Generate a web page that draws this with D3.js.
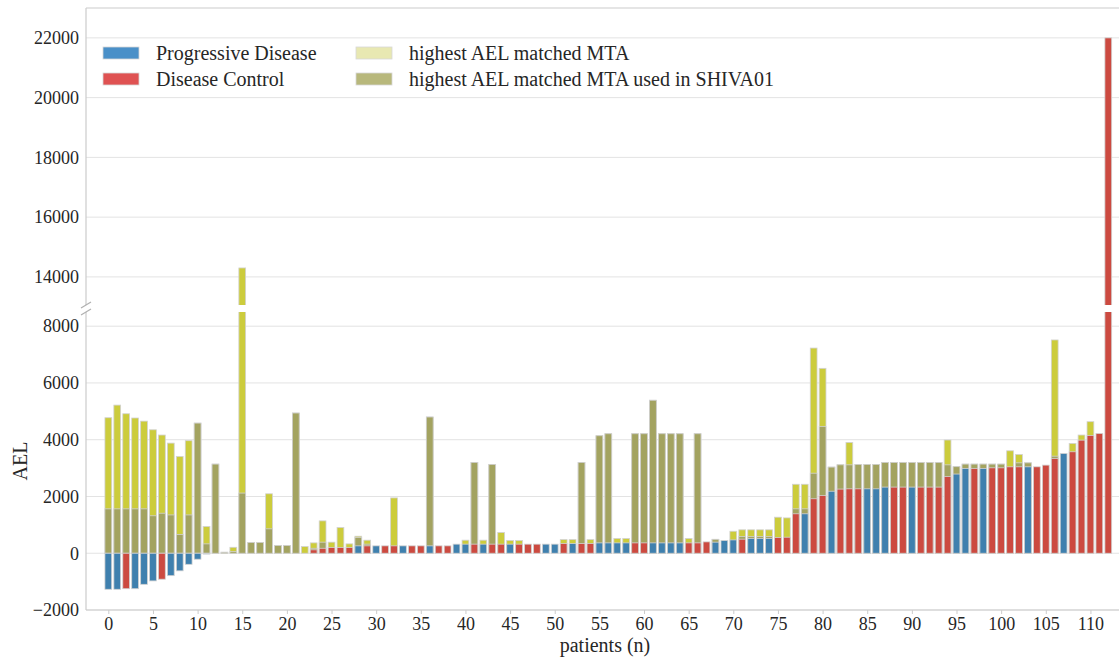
<!DOCTYPE html>
<html>
<head>
<meta charset="utf-8">
<script src="https://cdn.jsdelivr.net/npm/d3@7"></script>
<style>
  body { margin: 0; background: #fff; }
  svg { display: block; font-family: "Liberation Serif", "DejaVu Serif", serif; }
  .grid line { stroke: #e3e3e3; }
</style>
</head>
<body>
<svg width="1119" height="657"></svg>
<script>
// patient AEL (signed), response, highest AEL matched MTA, highest matched MTA used in SHIVA01
var patientAEL = [
  -1270, -1270, -1250, -1250, -1095, -975, -915, -790, -620, -390,
  -210, -30, 0, 0, 0, 0, 0, 0, 0, 0,
  0, 0, 0, 120, 175, 200, 200, 200, 260, 260,
  260, 260, 260, 260, 260, 260, 260, 260, 260, 320,
  320, 320, 320, 320, 320, 320, 320, 320, 320, 320,
  320, 340, 340, 340, 340, 365, 365, 365, 365, 365,
  365, 365, 365, 365, 365, 365, 365, 400, 390, 450,
  470, 495, 520, 520, 520, 555, 565, 1390, 1390, 1920,
  2035, 2185, 2260, 2270, 2270, 2270, 2270, 2330, 2330, 2330,
  2330, 2330, 2330, 2330, 2700, 2790, 2990, 2990, 2990, 3010,
  3010, 3045, 3045, 3045, 3045, 3105, 3340, 3515, 3575, 3985,
  4150, 4220, 22000
];
var response = [
  "PD","PD","DC","PD","PD","PD","DC","PD","PD","PD",
  "PD","PD","PD","PD","DC","PD","DC","DC","PD","PD",
  "PD","PD","PD","DC","DC","DC","DC","DC","PD","DC",
  "PD","DC","DC","PD","DC","DC","PD","DC","DC","PD",
  "PD","DC","PD","DC","DC","PD","DC","DC","DC","PD",
  "PD","DC","PD","DC","DC","PD","PD","PD","PD","DC",
  "DC","PD","PD","PD","PD","DC","DC","DC","PD","PD",
  "PD","DC","PD","PD","PD","DC","DC","DC","PD","DC",
  "DC","PD","DC","DC","DC","PD","PD","PD","DC","DC",
  "PD","DC","DC","DC","DC","PD","PD","DC","PD","DC",
  "DC","DC","DC","PD","DC","DC","DC","PD","DC","DC",
  "DC","DC","DC"
];
var matchedMTA = [
  4775, 5220, 4915, 4765, 4655, 4350, 4165, 3880, 3410, 3965,
  4585, 940, 3140, 35, 210, 14300, 375, 375, 2095, 270,
  270, 4940, 235, 365, 1140, 390, 905, 330, 600, 460,
  0, 0, 1950, 0, 0, 0, 4800, 0, 0, 0,
  460, 3200, 460, 3130, 730, 450, 450, 0, 0, 0,
  0, 480, 480, 3200, 480, 4140, 4210, 520, 520, 4210,
  4210, 5390, 4210, 4210, 4210, 520, 4210, 0, 490, 0,
  775, 825, 825, 825, 825, 1270, 1245, 2430, 2430, 7230,
  6515, 3035, 3115, 3905, 3130, 3130, 3130, 3200, 3200, 3200,
  3200, 3200, 3200, 3200, 3990, 3050, 3140, 3140, 3140, 3140,
  3140, 3610, 3480, 3185, 0, 0, 7515, 0, 3870, 4165,
  4635, 0, 0
];
var usedMTA = [
  1564, 1564, 1564, 1564, 1564, 1320, 1410, 1350, 660, 1350,
  4585, 330, 3140, 35, 60, 2120, 375, 375, 860, 270,
  270, 4940, 0, 175, 390, 0, 0, 0, 555, 320,
  0, 0, 0, 0, 0, 0, 4800, 0, 0, 0,
  0, 3200, 0, 3130, 0, 0, 0, 0, 0, 0,
  0, 0, 0, 3200, 0, 4140, 4210, 0, 0, 4210,
  4210, 5390, 4210, 4210, 4210, 0, 4210, 0, 490, 0,
  0, 590, 590, 590, 590, 0, 0, 1565, 1565, 2820,
  4470, 3035, 3115, 3115, 3130, 3130, 3130, 3200, 3200, 3200,
  3200, 3200, 3200, 3200, 3115, 3050, 3140, 3140, 3140, 3140,
  3140, 0, 3185, 3185, 0, 0, 3420, 0, 0, 0,
  0, 0, 0
];
var xTicks = d3.range(0, 111, 5);
var topTicks = [14000, 16000, 18000, 20000, 22000];
var bottomTicks = [-2000, 0, 2000, 4000, 6000, 8000];

var colors = {PD: "#3f80ae", DC: "#cc4a40", mta: "#cccc3c", used: "#a3a360"};
var legendColors = ["#4a90c8", "#df5252", "#e8e8b2", "#b8b87c"];
var legendLabels = ["Progressive Disease", "Disease Control", "highest AEL matched MTA", "highest AEL matched MTA used in SHIVA01"];

var serif = '"Liberation Serif", "DejaVu Serif", serif';
var svg = d3.select("svg");
var left = 86, right = 1119;

var x = d3.scaleLinear().domain([-2.5, 113.2]).range([left, right]);
var bw = x(0.76) - x(0);

var yTop = d3.scaleLinear().domain([13060, 23000]).range([305, 8]);
var yBot = d3.scaleLinear().domain([-2000, 8500]).range([610, 312]);

var data = patientAEL.map(function(v, i) {
  return {i: i, ael: v, resp: response[i], mta: matchedMTA[i], used: usedMTA[i]};
});

function styleAxis(ax) {
  ax.attr("font-family", serif).attr("font-size", 18);
  ax.selectAll(".tick text").attr("fill", "#262626");
  ax.select(".domain").remove();
}

function drawPanel(y, ticks, id, spines) {
  var y0 = y.range()[1], y1 = y.range()[0];
  svg.append("clipPath").attr("id", id)
    .append("rect").attr("x", left).attr("y", y0).attr("width", right - left).attr("height", y1 - y0);

  // grid
  svg.append("g").attr("class", "grid")
    .selectAll("line").data(ticks).enter().append("line")
      .attr("x1", left).attr("x2", right)
      .attr("y1", function(d) { return y(d); }).attr("y2", function(d) { return y(d); });

  var g = svg.append("g").attr("clip-path", "url(#" + id + ")");

  function bars(key, color) {
    g.selectAll(".b-" + key)
      .data(data.filter(function(d) { return d[key] !== 0; }))
      .enter().append("rect")
        .attr("class", "b-" + key)
        .attr("x", function(d) { return x(d.i) - bw / 2; })
        .attr("y", function(d) { return y(Math.max(0, d[key])); })
        .attr("width", bw)
        .attr("height", function(d) { return Math.abs(y(d[key]) - y(0)); })
        .attr("fill", color)
        .attr("stroke", "#d2d2d2")
        .attr("stroke-width", 0.8);
  }
  bars("mta", colors.mta);
  bars("used", colors.used);
  g.selectAll(".b-ael")
    .data(data.filter(function(d) { return d.ael !== 0; }))
    .enter().append("rect")
      .attr("class", "b-ael")
      .attr("x", function(d) { return x(d.i) - bw / 2; })
      .attr("y", function(d) { return y(Math.max(0, d.ael)); })
      .attr("width", bw)
      .attr("height", function(d) { return Math.abs(y(d.ael) - y(0)); })
      .attr("fill", function(d) { return colors[d.resp]; })
      .attr("stroke", "#d2d2d2")
      .attr("stroke-width", 0.8);

  var ax = svg.append("g")
    .attr("transform", "translate(" + left + ",0)")
    .call(d3.axisLeft(y).tickValues(ticks).tickSize(0).tickPadding(7).tickFormat(function(d) { return d < 0 ? "\u22122000" : d; }));
  styleAxis(ax);

  // spines
  spines.forEach(function(s) {
    svg.append("line").attr("stroke", "#cccccc").attr("stroke-width", 1.2)
      .attr("x1", s[0]).attr("y1", s[1]).attr("x2", s[2]).attr("y2", s[3]);
  });
}

drawPanel(yTop, topTicks, "clipTop", [[left, 8, right, 8], [left, 8, left, 305]]);
drawPanel(yBot, bottomTicks, "clipBot", [[left, 610, right, 610], [left, 312, left, 610]]);

// break marks
[305, 312].forEach(function(yy) {
  svg.append("line").attr("stroke", "#b0b0b0").attr("stroke-width", 1.2)
    .attr("x1", left - 5).attr("y1", yy + 3).attr("x2", left + 5).attr("y2", yy - 3);
});

// x axis
var xa = svg.append("g")
  .attr("transform", "translate(0,610)")
  .call(d3.axisBottom(x).tickValues(xTicks).tickSize(4).tickPadding(3));
styleAxis(xa);
xa.selectAll(".tick line").attr("stroke", "#cccccc");

svg.append("text")
  .attr("x", 605).attr("y", 652)
  .attr("text-anchor", "middle")
  .attr("font-size", 20).attr("fill", "#262626")
  .text("patients (n)");

svg.append("text")
  .attr("transform", "translate(27,461) rotate(-90)")
  .attr("text-anchor", "middle")
  .attr("font-size", 20).attr("fill", "#262626")
  .text("AEL");

// legend
var legend = svg.append("g");
legendLabels.forEach(function(lab, k) {
  var lx = k < 2 ? 103 : 356, ly = 47 + (k % 2) * 26;
  legend.append("rect")
    .attr("x", lx).attr("y", ly).attr("width", 36).attr("height", 12)
    .attr("fill", legendColors[k]).attr("stroke", "#d8d8d8").attr("stroke-width", 0.8);
  legend.append("text")
    .attr("x", lx + 53).attr("y", ly + 13)
    .attr("font-size", 20).attr("fill", "#262626")
    .text(lab);
});
</script>
</body>
</html>
